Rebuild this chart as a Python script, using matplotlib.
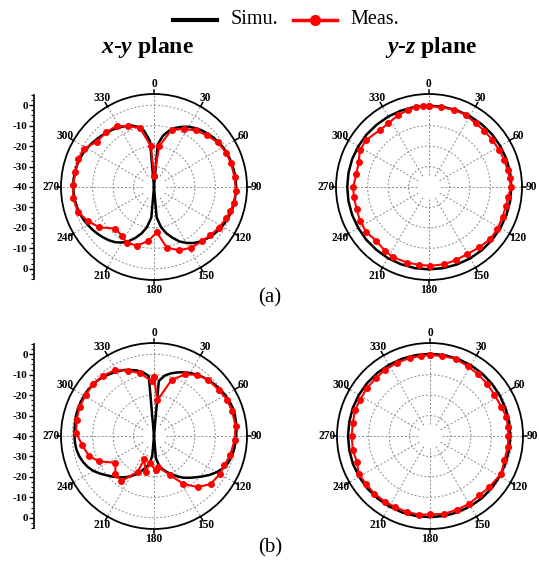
import numpy as np
import matplotlib
matplotlib.use('Agg')
import matplotlib.pyplot as plt
from matplotlib.lines import Line2D
from matplotlib.ticker import MultipleLocator

plt.rcParams['font.family'] = ['Liberation Serif', 'DejaVu Serif']
plt.rcParams['mathtext.fontset'] = 'custom'
plt.rcParams['mathtext.it'] = 'Liberation Serif:italic:bold'
plt.rcParams['mathtext.rm'] = 'Liberation Serif:bold'

# ---- data (dB vs angle in degrees) ----
sim_ang = np.arange(0, 365, 5)
sim_xy_a = [-40, -19, -14.5, -11.5, -9.2, -7.5, -6.0, -4.8, -3.8, -3.0, -2.2, -1.6,
            -1.1, -0.7, -0.4, -0.2, 0.0, 0.1, 0.2, 0.1, 0.0, -0.2, -0.5, -0.9,
            -1.5, -2.2, -3.0, -4.0, -5.1, -6.5, -8.4, -10.6, -13.6, -16.5, -20.0, -25,
            -40, -25, -20, -16.5, -13.5, -10.8, -8.6, -7.0, -5.9, -5.0, -4.2, -3.4,
            -2.7, -2.0, -1.5, -1.1, -0.8, -0.6, -0.5, -0.5, -0.6, -0.8, -1.1, -1.5,
            -2.1, -2.8, -3.5, -4.2, -4.8, -5.5, -6.3, -7.1, -8.0, -9.5, -12.0, -17.5,
            -40]
sim_xy_b = [-40, -13, -10, -8.3, -6.9, -5.6, -4.4, -3.4, -2.5, -1.7, -1.0, -0.4,
            0.2, 0.6, 0.9, 0.9, 0.7, 0.5, 0.2, 0.0, -0.3, -0.8, -1.4, -2.7,
            -4.6, -6.8, -9.2, -11.4, -13.3, -15.1, -17.2, -19.3, -21.2, -23, -25, -29,
            -40, -30, -26, -24, -21.5, -19.3, -17.3, -15.3, -13.6, -11.8, -10, -7.9,
            -5.8, -4.2, -3.0, -2.1, -1.5, -1.2, -1.1, -1.0, -0.8, -0.6, -0.5, -0.5,
            -0.5, -0.7, -1.0, -1.3, -2.0, -2.8, -3.6, -4.4, -5.6, -6.8, -8.3, -10.5,
            -40]

sim_ang_yz = np.arange(0, 370, 10)
sim_yz_a = [-0.2, -0.2, -0.1, 0, 0.1, 0.2, 0.2, 0.3, 0.3, 0.3, 0.3, 0.3, 0.3,
            0.3, 0.3, 0.3, 0.3, 0.3, 0.3, 0.3, 0.2, 0.2, 0.1, 0.1, 0, 0, 0,
            0, 0, 0, -0.1, -0.1, -0.2, -0.2, -0.2, -0.2, -0.2]
sim_yz_b = [0.2, 0.2, 0.1, 0, -0.2, -0.4, -0.5, -0.7, -0.7, -0.7, -0.7, -0.7, -0.6,
            -0.5, -0.4, -0.4, -0.3, -0.3, -0.3, -0.3, -0.2, -0.2, -0.1, 0, 0, 0.1, 0.1,
            0.1, 0.1, 0.2, 0.2, 0.2, 0.2, 0.2, 0.2, 0.2, 0.2]

meas_xy_a_ang = [0, 7.5, 17, 27, 36.5, 46, 55, 64.5, 73, 83, 92.5, 101, 107.5, 113.5,
                 122, 130.5, 138.5, 149, 158.5, 168, 176.5, 186, 196, 206, 213, 223,
                 233.5, 243, 252, 262, 271.5, 280.5, 290, 298.5, 308.5, 319, 328.5,
                 337, 346.5, 355.7, 360]
meas_xy_a = [-34.5, -19.8, -10.7, -8.1, -5.6, -3.7, -2.0, -0.9, -0.6, -0.3, 0.1, -0.2,
             -0.8, -1.5, -2.5, -3.7, -4.6, -5.2, -6.8, -9.6, -17.8, -13.5, -10.2, -9.6,
             -11.4, -12.2, -6.8, -3.5, -0.9, -0.2, -0.3, -0.9, -0.5, -0.9, -4.3, -4.5,
             -5.0, -7.7, -10.2, -20, -34.5]

meas_xy_b_ang = [0, 5.4, 17.5, 27, 35, 43.6, 54.4, 63.6, 72.6, 83, 93, 104, 112.5,
                 120.2, 130.3, 139.5, 148.4, 157.7, 172, 177.2, 188.5, 193.2, 202.5,
                 204.6, 215.9, 225.8, 235.2, 245.5, 253.1, 262.8, 272, 281.7, 291.4,
                 301, 310.5, 319.6, 329.2, 338.4, 347.7, 357.5, 360]
meas_xy_b = [-11, -22.5, -11.1, -6.2, -3.4, -1.9, -1.1, -0.1, 0.1, 0.2, -0.5, -1.6,
             -2.7, -2.8, -3.7, -7.1, -12.5, -19.2, -24.7, -23.2, -26.7, -21.9, -27.6,
             -20.7, -12.8, -13.6, -17, -10.2, -6.7, -4.6, -1.9, -1.3, -0.9, -1.0, -0.8,
             -1.4, -2.5, -5.6, -8.6, -13.2, -11]

meas_yz_a_ang = [0, 8.6, 17.8, 26.9, 36.2, 44.3, 53.5, 62.2, 70.3, 77.9, 83.4, 90,
                 97.2, 104.2, 111.9, 121.5, 130.4, 140.4, 150.3, 160, 168.7, 179,
                 187.6, 196.3, 206.8, 214.6, 224.6, 234, 244.1, 253.3, 262.4, 270,
                 280.5, 289.7, 298, 306.7, 319.3, 327.5, 337, 345, 351, 356, 360]
meas_yz_a = [-0.3, -0.5, -0.3, -0.4, -1.4, -1.4, -1.4, -1.2, -0.9, -0.7, -0.2, 0.1,
             -0.9, -1.2, -1.2, -0.7, -0.7, -1.6, -2.2, -1.9, -1.5, -1.4, -1.6, -1.5,
             -1.4, -2.1, -3.1, -2.2, -2.4, -3.0, -2.9, -2.9, -3.9, -3.5, -1.7, -1.6,
             -3.2, -3.0, -1.7, -0.9, -0.4, -0.5, -0.3]

meas_yz_b_ang = [0, 8.8, 18.5, 28.3, 37.5, 47.5, 57.4, 67.5, 75.7, 83.1, 90, 97.9,
                 108, 117.8, 130.6, 140.3, 150, 159.5, 169.7, 180, 188, 196.7, 205.9,
                 214, 224, 233.4, 242.3, 250.5, 259.7, 270, 279.4, 289.3, 297.4, 307.3,
                 317.2, 326, 335.8, 345.6, 353.3, 360]
meas_yz_b = [-0.4, -0.4, -0.2, -1.2, -1.7, -2.1, -2.6, -2.3, -1.5, -1.6, -1.6, -1.6,
             -1.7, -0.6, -1.7, -2.2, -1.7, -1.6, -1.3, -1.6, -1.2, -1.1, -1.3, -1.0,
             -0.8, -0.9, -0.5, -2.1, -1.6, -1.7, -1.7, -1.2, -1.5, -1.2, -1.3, -0.8,
             -0.75, -0.5, -0.65, -0.4]

angle_labels = list(range(0, 360, 30))

W, H = 539, 564
fig = plt.figure(figsize=(W / 100, H / 100), dpi=100)
R = 93  # outer radius in px
RMIN, RMAX = -40, 5.5


def px_rect(cx, cy, r):
    return [(cx - r) / W, (H - cy - r) / H, 2 * r / W, 2 * r / H]


def polar_panel(cx, cy, sa, sr, ma, mr):
    ax = fig.add_axes(px_rect(cx, cy, R), projection='polar')
    ax.set_theta_zero_location('N')
    ax.set_theta_direction(-1)
    ax.set_ylim(RMIN, RMAX)
    ax.set_xticks([])
    ax.set_yticks([])
    ax.grid(False)
    ax.spines['polar'].set_linewidth(1.3)
    th = np.linspace(0, 2 * np.pi, 361)
    for rr in (-30, -20, -10, 0):
        ax.plot(th, np.full_like(th, rr), ls=(0, (2, 2)), color='#8a8a8a', lw=0.7)
    for a in angle_labels:
        t = np.deg2rad(a)
        ax.plot([t, t], [-34, RMAX], ls=(0, (2, 2)), color='#8a8a8a', lw=0.7)
        ax.plot([t, t], [RMAX, RMAX + 2.2], color='k', lw=1.1, clip_on=False)
        ax.text(t, 10.3, str(a), ha='center', va='center', fontsize=8.3,
                fontweight='bold', clip_on=False)
    ax.plot(np.deg2rad(sa), sr, color='black', lw=1.8, zorder=3)
    ax.plot(np.deg2rad(ma), mr, '-o', color='#ff0000', lw=1.5, ms=4, zorder=4)
    return ax


def radial_axis(cy):
    ax = fig.add_axes([34 / W, (H - cy - R) / H, 0.001, 2 * R / H])
    ax.set_ylim(-(RMAX - RMIN), RMAX - RMIN)
    for s in ('top', 'right', 'bottom'):
        ax.spines[s].set_visible(False)
    ax.spines['left'].set_bounds(-45, 45)
    ax.spines['left'].set_linewidth(1.2)
    ax.set_xticks([])
    ticks = np.arange(-40, 41, 10)
    ax.set_yticks(ticks)
    ax.set_yticklabels([str(abs(v) - 40) for v in ticks], fontweight='bold')
    ax.yaxis.set_minor_locator(MultipleLocator(2.5))
    ax.tick_params(axis='y', which='major', length=3.5, width=1, labelsize=8, pad=1)
    ax.tick_params(axis='y', which='minor', length=2, width=0.8)
    ax.patch.set_visible(False)


polar_panel(154, 187, sim_ang, sim_xy_a, meas_xy_a_ang, meas_xy_a)
polar_panel(429, 187, sim_ang_yz, sim_yz_a, meas_yz_a_ang, meas_yz_a)
polar_panel(154, 436, sim_ang, sim_xy_b, meas_xy_b_ang, meas_xy_b)
polar_panel(430, 436, sim_ang_yz, sim_yz_b, meas_yz_b_ang, meas_yz_b)
radial_axis(187)
radial_axis(436)


def fx(x):
    return x / W


def fy(y):
    return 1 - y / H


# legend
fig.add_artist(Line2D([fx(173), fx(217)], [fy(20), fy(20)], color='black', lw=3))
fig.text(fx(231), fy(20), 'Simu.', fontsize=14.5, va='center', ha='left')
fig.add_artist(Line2D([fx(293), fx(337)], [fy(20), fy(20)], color='#ff0000', lw=2.5))
fig.add_artist(Line2D([fx(315)], [fy(20)], color='#ff0000', marker='o', ms=7))
fig.text(fx(350), fy(20), 'Meas.', fontsize=14.5, va='center', ha='left')

# titles
fig.text(fx(147), fy(48), r'$x$-$y$ plane', fontsize=17, fontweight='bold',
         ha='center', va='center')
fig.text(fx(431), fy(48), r'$y$-$z$ plane', fontsize=17, fontweight='bold',
         ha='center', va='center')

fig.text(fx(270), fy(298), '(a)', fontsize=15, ha='center', va='center')
fig.text(fx(270), fy(548), '(b)', fontsize=15, ha='center', va='center')

fig.savefig('out.png', dpi=100)
